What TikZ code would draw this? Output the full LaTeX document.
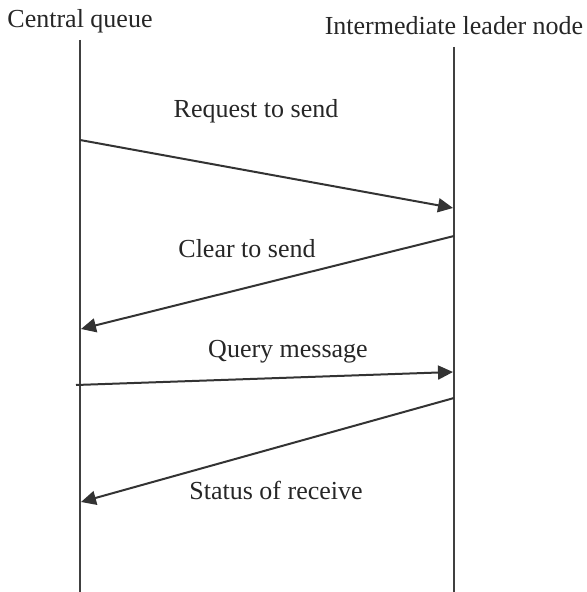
\documentclass[tikz,border=0pt]{standalone}
\usepackage{fontspec}
\setmainfont{Liberation Serif}
\usetikzlibrary{arrows.meta}
\begin{document}
\begin{tikzpicture}[x=0.5pt,y=-0.5pt,
  lbl/.style={inner sep=0pt,font=\fontsize{13}{15}\selectfont,text=black!85},
  life/.style={line width=1.1pt,draw=black!75},
  msg/.style={line width=1pt,draw=black!80,-{Triangle[length=7.5pt,width=7pt]}}]
\useasboundingbox (0,0) rectangle (586,592);
% headers
\node[lbl] (cq) at (80,21) {Central queue};
\node[lbl] (iln) at (454,26) {Intermediate leader node};
% lifelines
\coordinate (cqtop) at (80,40);
\coordinate (cqbot) at (80,592);
\coordinate (ilntop) at (454,47);
\coordinate (ilnbot) at (454,592);
\draw[life] (cqtop) -- (cqbot);
\draw[life] (ilntop) -- (ilnbot);
% message endpoints
\coordinate (m1a) at (80,140);
\coordinate (m1b) at (453,208);
\coordinate (m2a) at (454,236);
\coordinate (m2b) at (81,329);
\coordinate (m3a) at (76,385);
\coordinate (m3b) at (453,372);
\coordinate (m4a) at (454,398);
\coordinate (m4b) at (81,502);
\draw[msg] (m1a) -- (m1b);
\draw[msg] (m2a) -- (m2b);
\draw[msg] (m3a) -- (m3b);
\draw[msg] (m4a) -- (m4b);
% labels
\node[lbl] (l1) at (256,111) {Request to send};
\node[lbl] (l2) at (247,249) {Clear to send};
\node[lbl] (l3) at (288,352) {Query message};
\node[lbl] (l4) at (276,490) {Status of receive};
\end{tikzpicture}
\end{document}
